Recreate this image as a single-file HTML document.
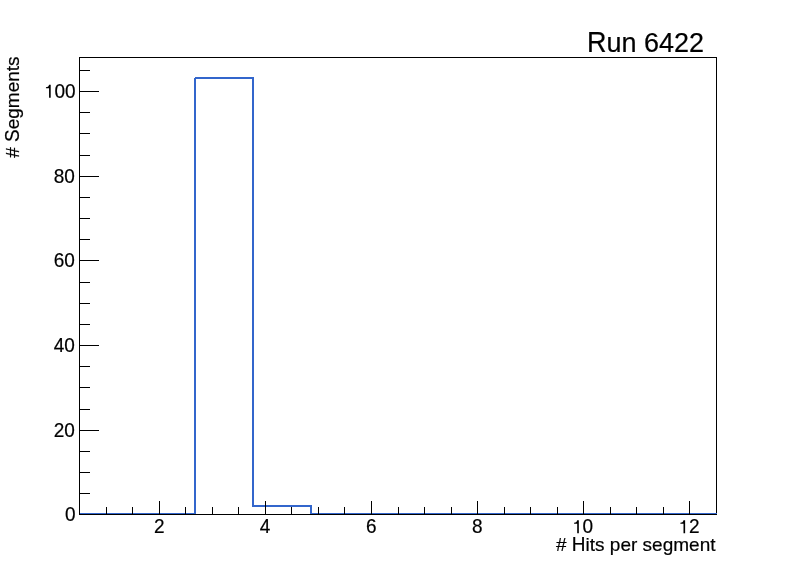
<!DOCTYPE html>
<html><head><meta charset="utf-8"><style>html,body{margin:0;padding:0;background:#fff;overflow:hidden}svg{display:block;will-change:transform}</style></head>
<body>
<svg width="796" height="572" viewBox="0 0 796 572">
<rect width="796" height="572" fill="#fff"/>
<g shape-rendering="crispEdges">
<rect x="79" y="513" width="117" height="2" fill="#3366cc"/>
<rect x="194" y="78" width="2" height="437" fill="#3366cc"/>
<rect x="195" y="77" width="59" height="2" fill="#3366cc"/>
<rect x="252" y="77" width="2" height="430" fill="#3366cc"/>
<rect x="252" y="505" width="60" height="2" fill="#3366cc"/>
<rect x="310" y="505" width="2" height="10" fill="#3366cc"/>
<rect x="310" y="513" width="407" height="2" fill="#3366cc"/>
<rect x="79" y="57" width="638" height="1" fill="#000"/>
<rect x="79" y="57" width="1" height="458" fill="#000"/>
<rect x="716" y="57" width="1" height="456" fill="#000"/>
<rect x="716" y="514" width="1" height="1" fill="#000"/>
<rect x="79" y="514" width="638" height="1" fill="#000"/>
<rect x="106" y="507" width="1" height="8" fill="#000"/>
<rect x="132" y="507" width="1" height="8" fill="#000"/>
<rect x="159" y="501" width="1" height="14" fill="#000"/>
<rect x="185" y="507" width="1" height="8" fill="#000"/>
<rect x="212" y="507" width="1" height="8" fill="#000"/>
<rect x="238" y="507" width="1" height="8" fill="#000"/>
<rect x="265" y="501" width="1" height="14" fill="#000"/>
<rect x="291" y="507" width="1" height="8" fill="#000"/>
<rect x="318" y="507" width="1" height="8" fill="#000"/>
<rect x="344" y="507" width="1" height="8" fill="#000"/>
<rect x="371" y="501" width="1" height="14" fill="#000"/>
<rect x="398" y="507" width="1" height="8" fill="#000"/>
<rect x="424" y="507" width="1" height="8" fill="#000"/>
<rect x="451" y="507" width="1" height="8" fill="#000"/>
<rect x="477" y="501" width="1" height="14" fill="#000"/>
<rect x="504" y="507" width="1" height="8" fill="#000"/>
<rect x="530" y="507" width="1" height="8" fill="#000"/>
<rect x="557" y="507" width="1" height="8" fill="#000"/>
<rect x="583" y="501" width="1" height="14" fill="#000"/>
<rect x="610" y="507" width="1" height="8" fill="#000"/>
<rect x="636" y="507" width="1" height="8" fill="#000"/>
<rect x="663" y="507" width="1" height="8" fill="#000"/>
<rect x="689" y="501" width="1" height="14" fill="#000"/>
<rect x="79" y="514" width="20" height="1" fill="#000"/>
<rect x="79" y="493" width="11" height="1" fill="#000"/>
<rect x="79" y="472" width="11" height="1" fill="#000"/>
<rect x="79" y="451" width="11" height="1" fill="#000"/>
<rect x="79" y="430" width="20" height="1" fill="#000"/>
<rect x="79" y="409" width="11" height="1" fill="#000"/>
<rect x="79" y="387" width="11" height="1" fill="#000"/>
<rect x="79" y="366" width="11" height="1" fill="#000"/>
<rect x="79" y="345" width="20" height="1" fill="#000"/>
<rect x="79" y="324" width="11" height="1" fill="#000"/>
<rect x="79" y="303" width="11" height="1" fill="#000"/>
<rect x="79" y="282" width="11" height="1" fill="#000"/>
<rect x="79" y="260" width="20" height="1" fill="#000"/>
<rect x="79" y="239" width="11" height="1" fill="#000"/>
<rect x="79" y="218" width="11" height="1" fill="#000"/>
<rect x="79" y="197" width="11" height="1" fill="#000"/>
<rect x="79" y="176" width="20" height="1" fill="#000"/>
<rect x="79" y="155" width="11" height="1" fill="#000"/>
<rect x="79" y="133" width="11" height="1" fill="#000"/>
<rect x="79" y="112" width="11" height="1" fill="#000"/>
<rect x="79" y="91" width="20" height="1" fill="#000"/>
<rect x="79" y="70" width="11" height="1" fill="#000"/>
</g>
<g font-family="'Liberation Sans', sans-serif" font-size="19.0" fill="#000" stroke="#000" stroke-width="0.2">
<g transform="translate(64.93,521.1) scale(1,1.04)"><text x="0.00" y="0">0</text></g>
<g transform="translate(53.67,436.8) scale(1,1.04)"><text x="0.00" y="0">20</text></g>
<g transform="translate(53.67,351.8) scale(1,1.04)"><text x="0.00" y="0">40</text></g>
<g transform="translate(53.67,266.8) scale(1,1.04)"><text x="0.00" y="0">60</text></g>
<g transform="translate(53.67,182.8) scale(1,1.04)"><text x="0.00" y="0">80</text></g>
<g transform="translate(43.90,97.8) scale(1,1.04)"><path transform="translate(0.00,0) scale(0.01900,-0.01900)" d="M358,0 L272,0 L272,482 L108,482 L108,538 C192,542 246,560 272,662 L358,662 Z"/><text x="10.57" y="0">00</text></g>
<g transform="translate(154.12,533.3) scale(1,1.04)"><text x="0.00" y="0">2</text></g>
<g transform="translate(259.82,533.3) scale(1,1.04)"><text x="0.00" y="0">4</text></g>
<g transform="translate(366.02,533.3) scale(1,1.04)"><text x="0.00" y="0">6</text></g>
<g transform="translate(472.02,533.3) scale(1,1.04)"><text x="0.00" y="0">8</text></g>
<g transform="translate(572.03,533.3) scale(1,1.04)"><path transform="translate(0.00,0) scale(0.01900,-0.01900)" d="M358,0 L272,0 L272,482 L108,482 L108,538 C192,542 246,560 272,662 L358,662 Z"/><text x="10.57" y="0">0</text></g>
<g transform="translate(678.33,533.3) scale(1,1.04)"><path transform="translate(0.00,0) scale(0.01900,-0.01900)" d="M358,0 L272,0 L272,482 L108,482 L108,538 C192,542 246,560 272,662 L358,662 Z"/><text x="10.57" y="0">2</text></g>
<text transform="translate(586.99,52) scale(1,1.075)" font-size="27">R</text>
<text transform="translate(606.47,52) scale(1,1.0)" font-size="27">un </text>
<text transform="translate(644.02,52) scale(1,1.03)" font-size="27">6422</text>
<text transform="translate(556.03,551.2) scale(1,1.0)">&#35; </text>
<text transform="translate(571.87,551.2) scale(1,1.06)">H</text>
<text transform="translate(585.59,551.2) scale(1,1.0)">its per segment</text>
<text transform="translate(19.4,157.81) rotate(-90) scale(1,1.0)">&#35; </text>
<text transform="translate(19.4,141.97) rotate(-90) scale(1,1.06)">S</text>
<text transform="translate(19.4,129.29) rotate(-90) scale(1,1.0)">egments</text>
</g>
</svg>
</body></html>
